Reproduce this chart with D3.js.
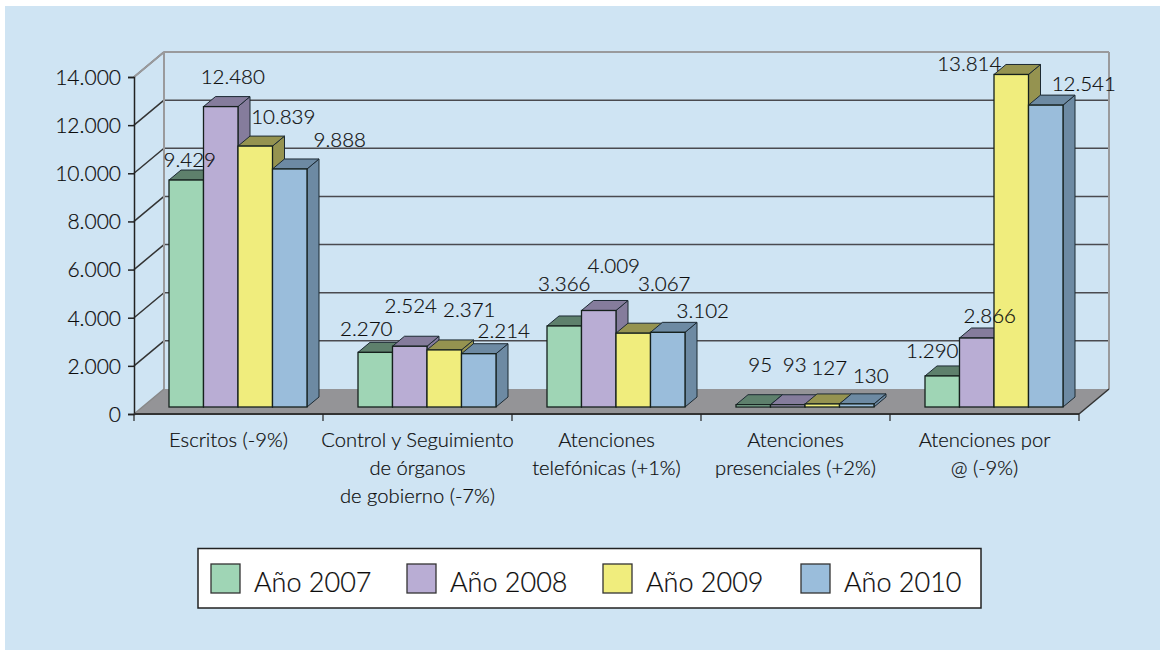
<!DOCTYPE html>
<html><head><meta charset="utf-8">
<script src="https://cdn.jsdelivr.net/npm/d3@7"></script>
<style>html,body{margin:0;background:#fff}svg{display:block}text{font-family:Lato,"Open Sans",sans-serif;fill:#0c0c0c;font-weight:300;stroke:#0c0c0c;stroke-width:0.2px}</style>
</head><body><svg id="c" width="1163" height="650"></svg>
<script>
const categories=[["Escritos (-9%)"],["Control y Seguimiento","de órganos","de gobierno (-7%)"],["Atenciones","telefónicas (+1%)"],["Atenciones","presenciales (+2%)"],["Atenciones por","@ (-9%)"]];
const seriesNames=["Año 2007","Año 2008","Año 2009","Año 2010"];
const año2007=[9429,2270,3366,95,1290];
const año2008=[12480,2524,4009,93,2866];
const año2009=[10839,2371,3067,127,13814];
const año2010=[9888,2214,3102,130,12541];
const seriesValues=[año2007,año2008,año2009,año2010];
const yTicks=[0,2000,4000,6000,8000,10000,12000,14000];
const colors=["#9fd5b5","#b9add4","#f0ed7d","#9abddb"];
const sideColors=["#5e806c","#857c9c","#959350","#6d8aa3"];
// per-label nudges from the top centre of each bar [dx,dy]
const labelNudge=[
 [[3.5,-13],[12,-22.5],[28,-22],[50,-22.3]],
 [[-9,-16],[1,-33.5],[25,-33],[25,-16]],
 [[0,-35],[15,-37.5],[31,-42],[35,-14]],
 [[7,-33],[7,-33],[7,-29],[14,-21]],
 [[-10,-18],[13,-15],[-42,-3.5],[38,-14]]];

const fmt=n=>String(n).replace(/\B(?=(\d{3})+$)/g,".");
const svg=d3.select("#c");
const front={x0:134,x1:1079,y0:414,y1:77};
const depth={dx:30,dy:-25};
const barDepth={dx:12,dy:-10};
const barShift={dx:9.5,dy:-7};
const x=d3.scaleBand().domain(d3.range(categories.length)).range([front.x0,front.x1]);
const y=d3.scaleLinear().domain([0,14000]).range([front.y0,front.y1]);
const inner=d3.scaleBand().domain(d3.range(4)).range([-69,69]);

svg.append("rect").attr("x",5).attr("y",6).attr("width",1155).attr("height",644).attr("fill","#cfe4f3");

// floor
const poly=(pts,fill,stroke,w)=>svg.append("polygon").attr("points",pts.map(p=>p.join(",")).join(" ")).attr("fill",fill).attr("stroke",stroke||"none").attr("stroke-width",w||0);
poly([[front.x0,front.y0],[front.x0+depth.dx,front.y0+depth.dy],[front.x1+depth.dx,front.y0+depth.dy],[front.x1,front.y0]],"#949497");

// back wall gridlines
yTicks.forEach(t=>{
  const yy=y(t);
  if(t>0){
    svg.append("line").attr("x1",front.x0).attr("y1",yy).attr("x2",front.x0+depth.dx).attr("y2",yy+depth.dy).attr("stroke","#333").attr("stroke-width",1.5);
    svg.append("line").attr("x1",front.x0+depth.dx).attr("y1",yy+depth.dy).attr("x2",front.x1+depth.dx).attr("y2",yy+depth.dy)
      .attr("stroke",t==14000?"#9a9a9c":"#4a4a4f").attr("stroke-width",t==14000?2:1.5);
  }
});
svg.append("line").attr("x1",front.x0+depth.dx).attr("x2",front.x0+depth.dx).attr("y1",y(14000)+depth.dy).attr("y2",y(0)+depth.dy).attr("stroke","#9a9a9c").attr("stroke-width",2);
svg.append("line").attr("x1",front.x1+depth.dx).attr("x2",front.x1+depth.dx).attr("y1",y(14000)+depth.dy).attr("y2",y(0)+depth.dy).attr("stroke","#9a9a9c").attr("stroke-width",2);
svg.append("line").attr("x1",front.x0).attr("y1",y(14000)).attr("x2",front.x0+depth.dx).attr("y2",y(14000)+depth.dy).attr("stroke","#9a9a9c").attr("stroke-width",2);
svg.append("line").attr("x1",front.x0).attr("y1",y(0)).attr("x2",front.x0+depth.dx).attr("y2",y(0)+depth.dy).attr("stroke","#888").attr("stroke-width",1.5);
svg.append("line").attr("x1",front.x1).attr("y1",y(0)).attr("x2",front.x1+depth.dx).attr("y2",y(0)+depth.dy).attr("stroke","#333").attr("stroke-width",1.5);

// axes
const yAxis=d3.axisLeft(y).tickValues(yTicks).tickSize(6).tickFormat(fmt);
const gy=svg.append("g").attr("transform",`translate(${front.x0},0)`).call(yAxis);
gy.selectAll("path,line").attr("stroke","#222").attr("stroke-width",1.5);
gy.selectAll("text").attr("font-size",21).attr("x",-13).attr("dy","0.35em");
const edges=d3.range(categories.length+1).map(i=>front.x0+i*x.bandwidth());
svg.append("line").attr("x1",front.x0).attr("x2",front.x1).attr("y1",front.y0).attr("y2",front.y0).attr("stroke","#333").attr("stroke-width",2);
svg.selectAll(".xt").data(edges).join("line").attr("x1",d=>d).attr("x2",d=>d).attr("y1",front.y0).attr("y2",front.y0+7).attr("stroke","#222").attr("stroke-width",1.2);

// bars
const barTopLabels=[];
categories.forEach((c,ci)=>{
  seriesValues.forEach((vals,si)=>{
    const v=vals[ci];
    const cx=x(ci)+x.bandwidth()/2+barShift.dx;
    const l=cx+inner(si), w=inner.bandwidth(), r=l+w;
    const base=y(0)+barShift.dy, top=base-(y(0)-y(v));
    const d=barDepth;
    const g=svg.append("g");
    g.append("polygon").attr("points",[[r,top],[r+d.dx,top+d.dy],[r+d.dx,base+d.dy],[r,base]].map(p=>p.join(",")).join(" ")).attr("fill",sideColors[si]).attr("stroke","#1d2a33").attr("stroke-width",1);
    g.append("polygon").attr("points",[[l,top],[l+d.dx,top+d.dy],[r+d.dx,top+d.dy],[r,top]].map(p=>p.join(",")).join(" ")).attr("fill",sideColors[si]).attr("stroke","#1d2a33").attr("stroke-width",1);
    g.append("rect").attr("x",l).attr("y",top).attr("width",w).attr("height",base-top).attr("fill",colors[si]).attr("stroke","#15201c").attr("stroke-width",1.3);
    const n=labelNudge[ci][si];
    barTopLabels.push({t:fmt(v),x:l+w/2+n[0],y:top+n[1]});
  });
});
svg.selectAll(".vl").data(barTopLabels).join("text").attr("class","vl").attr("x",d=>d.x).attr("y",d=>d.y).attr("text-anchor","middle").attr("font-size",20.5).text(d=>d.t);

// category labels
categories.forEach((c,ci)=>{
  c.forEach((s,j)=>svg.append("text").attr("x",x(ci)+x.bandwidth()/2).attr("y",447+j*28).attr("text-anchor","middle").attr("font-size",20.2).text(s));
});

// legend
svg.append("rect").attr("x",198).attr("y",548.5).attr("width",783).attr("height",59.5).attr("fill","#fff").attr("stroke","#222").attr("stroke-width",1.5);
const legX=[211,407,603,801], legTextX=[254,450,646,844];
seriesNames.forEach((s,i)=>{
  svg.append("rect").attr("x",legX[i]).attr("y",564).attr("width",29).attr("height",29).attr("fill",colors[i]).attr("stroke","#333").attr("stroke-width",1.3);
  svg.append("text").attr("x",legTextX[i]).attr("y",592).attr("font-size",27).text(s);
});
</script></body></html>
